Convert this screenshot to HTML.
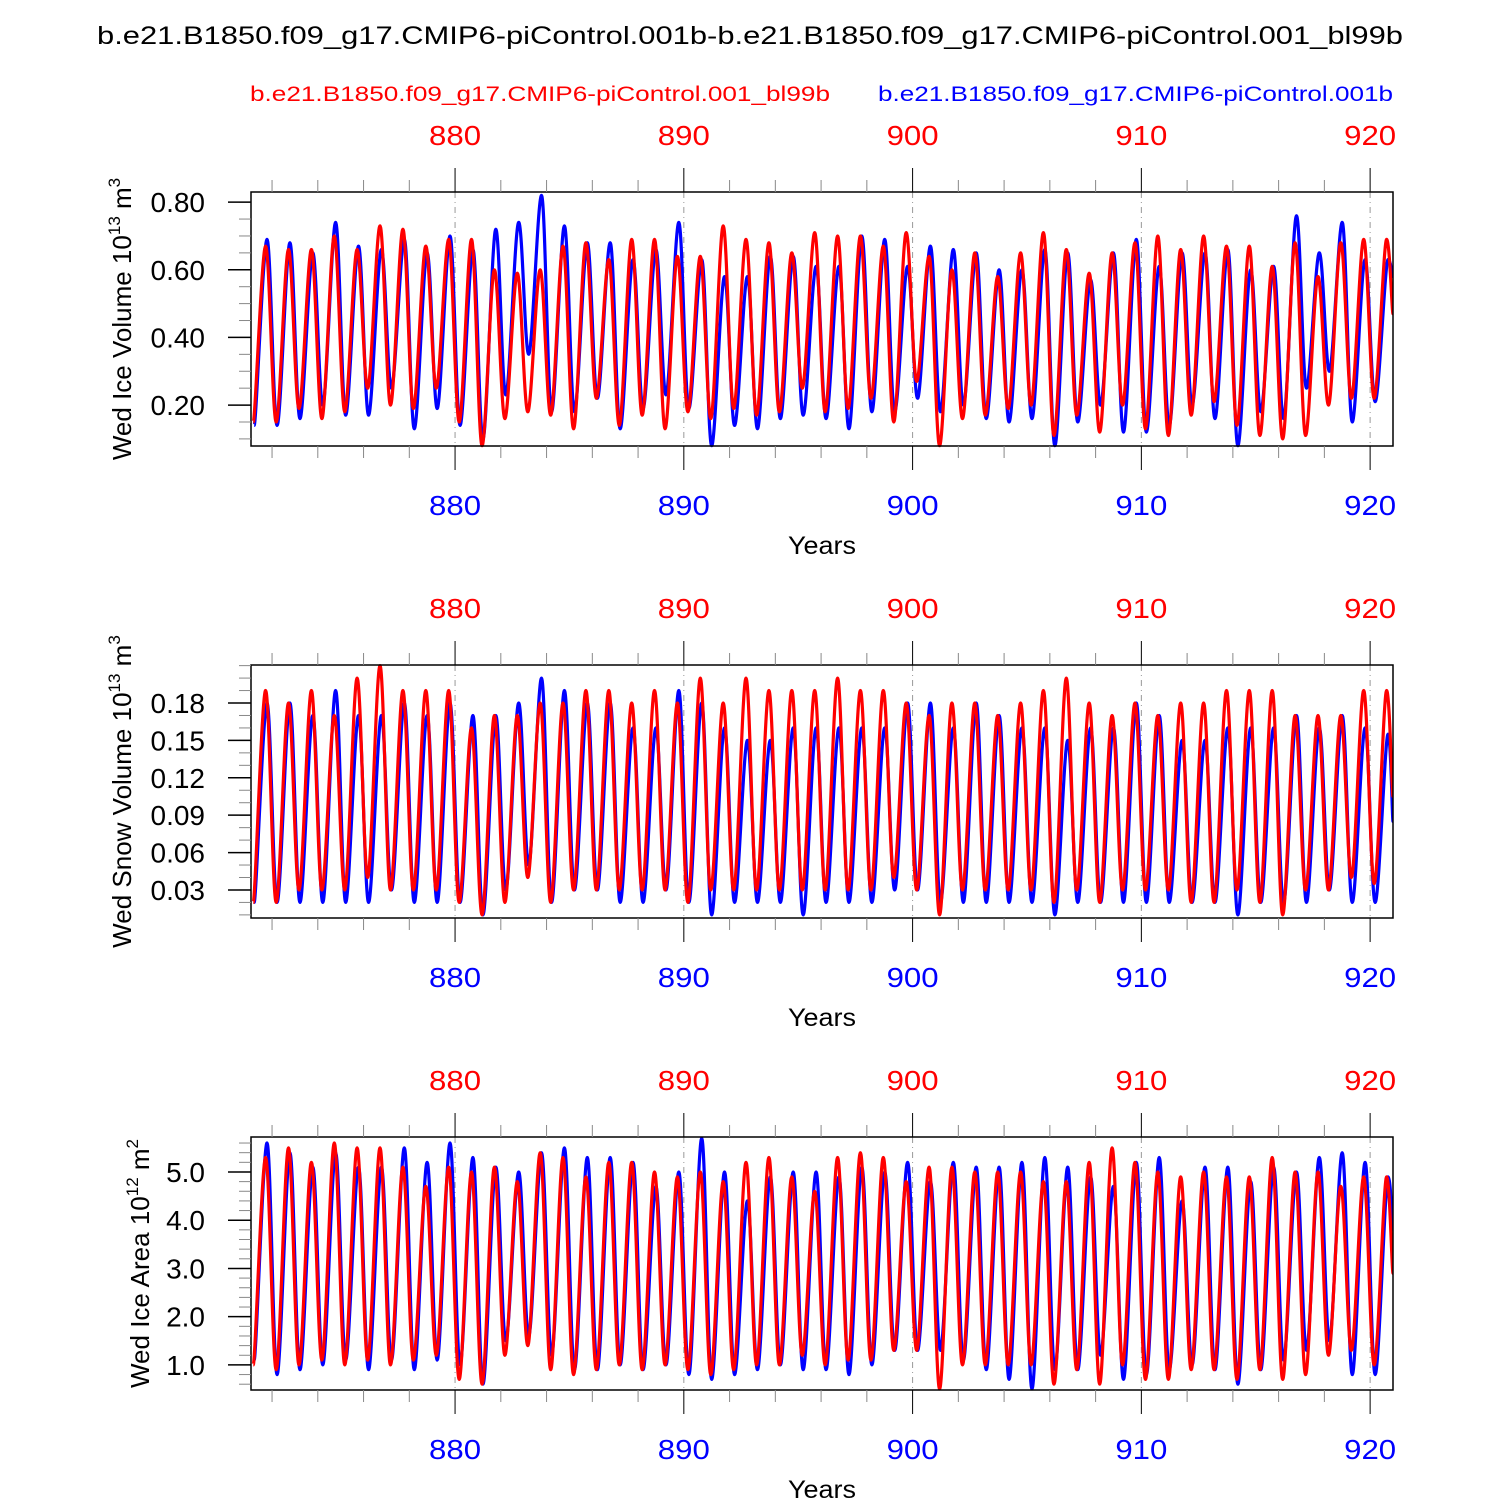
<!DOCTYPE html>
<html><head><meta charset="utf-8"><style>
body{margin:0;background:#fff;}
svg text{font-family:"Liberation Sans",sans-serif;}
</style></head><body>
<svg id="chart" width="1500" height="1500" xmlns="http://www.w3.org/2000/svg">
<text x="97" y="44" font-size="25" textLength="1306" lengthAdjust="spacingAndGlyphs">b.e21.B1850.f09_g17.CMIP6-piControl.001b-b.e21.B1850.f09_g17.CMIP6-piControl.001_bl99b</text>
<text x="250" y="101" font-size="21" fill="#f00" textLength="580" lengthAdjust="spacingAndGlyphs">b.e21.B1850.f09_g17.CMIP6-piControl.001_bl99b</text>
<text x="878" y="101" font-size="21" fill="#00f" textLength="515" lengthAdjust="spacingAndGlyphs">b.e21.B1850.f09_g17.CMIP6-piControl.001b</text>
</svg>
<script>
const years=[];for(let y=871;y<=920;y++)years.push(y);
const tickYears=[880,890,900,910,920];
// Panel 1: ice volume
const p1BlueMax=[0.69,0.68,0.65,0.74,0.67,0.66,0.69,0.65,0.70,0.66,0.72,0.74,0.82,0.73,0.68,0.68,0.63,0.66,0.74,0.63,0.58,0.58,0.64,0.64,0.61,0.61,0.70,0.69,0.61,0.67,0.66,0.65,0.60,0.60,0.66,0.65,0.57,0.65,0.69,0.61,0.65,0.65,0.66,0.60,0.61,0.76,0.65,0.74,0.63,0.63];
const p1BlueMin=[0.14,0.14,0.16,0.20,0.17,0.17,0.25,0.13,0.19,0.14,0.10,0.23,0.35,0.18,0.18,0.22,0.13,0.19,0.23,0.19,0.08,0.14,0.13,0.16,0.17,0.16,0.13,0.18,0.18,0.22,0.18,0.20,0.16,0.15,0.16,0.08,0.15,0.20,0.12,0.12,0.14,0.20,0.16,0.08,0.18,0.16,0.25,0.30,0.15,0.21];
const p1RedMax=[0.67,0.66,0.66,0.70,0.66,0.73,0.72,0.67,0.69,0.69,0.60,0.59,0.60,0.67,0.68,0.63,0.69,0.69,0.64,0.64,0.73,0.69,0.68,0.65,0.71,0.70,0.70,0.67,0.71,0.64,0.60,0.65,0.58,0.65,0.71,0.66,0.59,0.65,0.68,0.70,0.66,0.70,0.67,0.67,0.61,0.68,0.58,0.68,0.69,0.69];
const p1RedMin=[0.15,0.15,0.19,0.16,0.18,0.25,0.20,0.19,0.25,0.15,0.08,0.16,0.18,0.17,0.13,0.22,0.14,0.17,0.13,0.18,0.16,0.19,0.17,0.18,0.25,0.18,0.19,0.22,0.15,0.27,0.08,0.16,0.17,0.19,0.20,0.11,0.17,0.12,0.20,0.13,0.11,0.17,0.21,0.14,0.11,0.10,0.11,0.20,0.22,0.22];
const p1End=[0.58,0.47]; // blue, red value at right edge
// Panel 2: snow volume
const p2BlueMax=[0.18,0.18,0.17,0.19,0.17,0.17,0.18,0.17,0.18,0.17,0.17,0.18,0.20,0.19,0.18,0.18,0.16,0.16,0.19,0.18,0.16,0.15,0.15,0.16,0.16,0.16,0.16,0.16,0.18,0.18,0.16,0.18,0.17,0.16,0.16,0.15,0.16,0.16,0.18,0.17,0.15,0.15,0.16,0.16,0.16,0.17,0.16,0.17,0.16,0.155];
const p2BlueMin=[0.02,0.02,0.02,0.02,0.02,0.02,0.03,0.02,0.02,0.02,0.01,0.03,0.05,0.02,0.03,0.03,0.02,0.02,0.03,0.02,0.01,0.02,0.02,0.02,0.01,0.02,0.02,0.02,0.03,0.03,0.02,0.02,0.02,0.02,0.02,0.01,0.02,0.02,0.02,0.02,0.02,0.02,0.02,0.01,0.02,0.02,0.02,0.03,0.02,0.02];
const p2RedMax=[0.19,0.18,0.19,0.17,0.20,0.21,0.19,0.19,0.19,0.16,0.17,0.17,0.18,0.18,0.19,0.19,0.18,0.19,0.18,0.20,0.18,0.20,0.19,0.19,0.19,0.20,0.19,0.19,0.18,0.17,0.18,0.18,0.17,0.18,0.19,0.20,0.18,0.17,0.18,0.17,0.18,0.18,0.19,0.19,0.19,0.17,0.17,0.17,0.19,0.19];
const p2RedMin=[0.02,0.02,0.03,0.03,0.03,0.04,0.03,0.03,0.03,0.02,0.01,0.02,0.04,0.02,0.03,0.03,0.03,0.03,0.03,0.02,0.03,0.03,0.03,0.03,0.03,0.03,0.03,0.03,0.04,0.03,0.01,0.03,0.03,0.03,0.03,0.02,0.03,0.02,0.03,0.03,0.03,0.02,0.02,0.03,0.02,0.01,0.03,0.03,0.04,0.035];
const p2End=[0.085,0.105];
// Panel 3: ice area
const p3BlueMax=[5.6,5.4,5.1,5.4,5.1,5.1,5.5,5.2,5.6,5.3,5.1,5.0,5.4,5.5,5.3,5.3,5.2,4.7,5.0,5.7,5.0,4.4,4.9,5.0,5.0,4.9,5.1,5.0,5.2,4.8,5.2,5.1,5.1,5.2,5.3,5.1,4.9,4.7,5.2,5.3,4.4,5.1,5.1,4.8,5.1,5.0,5.3,5.4,5.2,4.9];
const p3BlueMin=[1.1,0.8,0.9,1.0,1.1,0.9,1.1,0.9,1.1,1.0,0.6,1.5,1.6,1.2,0.9,0.9,1.0,0.9,1.0,0.8,0.7,0.8,0.9,1.0,0.9,0.9,0.8,1.0,1.3,1.3,1.3,1.1,0.9,0.7,0.5,0.9,0.9,1.2,0.7,0.8,0.9,1.0,0.9,0.6,0.9,1.1,1.3,1.5,0.8,0.8];
const p3RedMax=[5.3,5.5,5.2,5.6,5.5,5.5,5.1,4.7,5.1,5.0,5.1,4.8,5.4,5.3,4.9,5.2,5.2,5.0,4.9,5.0,4.8,5.2,5.3,4.9,4.6,5.3,5.4,5.3,4.8,5.1,5.1,5.0,5.0,5.0,4.8,4.8,5.2,5.5,5.2,5.0,4.9,5.0,4.9,4.9,5.3,5.0,5.0,4.7,4.9,4.9];
const p3RedMin=[1.0,0.9,1.0,1.1,1.0,1.1,1.0,1.1,1.2,0.7,0.6,1.2,1.4,0.9,0.8,0.9,1.0,0.9,1.0,0.9,0.8,0.9,1.0,1.0,1.2,1.0,1.1,1.1,1.3,1.3,0.5,1.0,1.0,1.0,1.0,0.6,0.9,0.6,1.0,0.7,0.7,0.9,0.9,0.7,0.9,0.7,0.8,1.2,1.3,1.0];
const p3End=[3.8,2.9];

const svg=document.getElementById('chart');
const NS='http://www.w3.org/2000/svg';
function mk(tag,attrs,parent){const e=document.createElementNS(NS,tag);for(const k in attrs)e.setAttribute(k,attrs[k]);(parent||svg).appendChild(e);return e;}
const X0=251,X1=1393,YR0=871.08,YR1=921.0;
const xs=v=>X0+(v-YR0)/(YR1-YR0)*(X1-X0);

const panels=[
 {name:'ice-volume',top:192,bot:446,vmin:0.079,vmax:0.83,ticks:[0.2,0.4,0.6,0.8],dec:2,minor:0.05,title:'Wed Ice Volume 10',sup:'13',unit:' m',usup:'3',tx:128,bm:p1BlueMax,bn:p1BlueMin,rm:p1RedMax,rn:p1RedMin,end:p1End},
 {name:'snow-volume',top:665,bot:918,vmin:0.0075,vmax:0.2105,ticks:[0.03,0.06,0.09,0.12,0.15,0.18],dec:2,minor:0.01,title:'Wed Snow Volume 10',sup:'13',unit:' m',usup:'3',tx:128,bm:p2BlueMax,bn:p2BlueMin,rm:p2RedMax,rn:p2RedMin,end:p2End},
 {name:'ice-area',top:1137,bot:1390,vmin:0.48,vmax:5.725,ticks:[1,2,3,4,5],dec:1,minor:0.2,title:'Wed Ice Area 10',sup:'12',unit:' m',usup:'2',tx:146,bm:p3BlueMax,bn:p3BlueMin,rm:p3RedMax,rn:p3RedMin,end:p3End}
];

function smoothPath(pts){
 let d='M'+pts[0][0].toFixed(1)+','+pts[0][1].toFixed(1);
 for(let i=0;i<pts.length-1;i++){
  const p0=pts[Math.max(0,i-1)],p1=pts[i],p2=pts[i+1],p3=pts[Math.min(pts.length-1,i+2)];
  const c1=[p1[0]+(p2[0]-p0[0])/6,p1[1]];
  const c2=[p2[0]-(p3[0]-p1[0])/6,p2[1]];
  d+=' C'+c1[0].toFixed(1)+','+c1[1].toFixed(1)+' '+c2[0].toFixed(1)+','+c2[1].toFixed(1)+' '+p2[0].toFixed(1)+','+p2[1].toFixed(1);
 }
 return d;
}

panels.forEach(p=>{
 const g=mk('g',{});
 
 
 const ys=v=>p.bot-(v-p.vmin)/(p.vmax-p.vmin)*(p.bot-p.top);
 tickYears.forEach(yr=>{
  const l=mk('line',{x1:xs(yr),x2:xs(yr),y1:p.top,y2:p.bot,stroke:'#999','stroke-width':1,'stroke-dasharray':'6,4,1,4'},g);
  
  
 });
 const series=[['blue',p.bm,p.bn,0.78,0.22,'#00f',p.end[0]],['red',p.rm,p.rn,0.72,0.18,'#f00',p.end[1]]];
 const clipId='clip-'+p.name;
 const cp=mk('clipPath',{id:clipId},g);mk('rect',{x:X0,y:p.top-2,width:X1-X0,height:p.bot-p.top+4},cp);
 series.forEach(s=>{
  const pts=[];
  years.forEach((yr,i)=>{pts.push([xs(yr+s[4]),ys(s[2][i])]);pts.push([xs(yr+s[3]),ys(s[1][i])]);});
  pts.push([xs(921.0),ys(s[6])]);
  const path=mk('path',{d:smoothPath(pts),fill:'none',stroke:s[5],'stroke-width':3.2,'clip-path':'url(#'+clipId+')'},g);
  
  
 });
 const fr=mk('rect',{x:X0,y:p.top,width:X1-X0,height:p.bot-p.top,fill:'none',stroke:'#000','stroke-width':1.5},g);
 
 
 for(let v=Math.ceil(p.vmin/p.minor)*p.minor;v<=p.vmax;v+=p.minor){mk('line',{x1:X0-12,x2:X0,y1:ys(v),y2:ys(v),stroke:'#888','stroke-width':1},g);}
 p.ticks.forEach(v=>{
  mk('line',{x1:X0-23,x2:X0,y1:ys(v),y2:ys(v),stroke:'#000','stroke-width':1.5},g);
  const t=mk('text',{x:X0-46,y:ys(v)+10,'font-size':28,'text-anchor':'end'},g);t.textContent=v.toFixed(p.dec);
  
  
 });
 for(let yr=872;yr<=921;yr+=2){
  const major=yr%10===0;const len=major?24:12;const col=major?'#000':'#888';
  mk('line',{x1:xs(yr),x2:xs(yr),y1:p.top,y2:p.top-len,stroke:col,'stroke-width':1},g);
  mk('line',{x1:xs(yr),x2:xs(yr),y1:p.bot,y2:p.bot+len,stroke:col,'stroke-width':1},g);
 }
 tickYears.forEach(yr=>{
  const t1=mk('text',{x:xs(yr),y:p.top-47,'font-size':28,'text-anchor':'middle',fill:'#f00',textLength:52,lengthAdjust:'spacingAndGlyphs'},g);t1.textContent=yr;
  
  
  const t2=mk('text',{x:xs(yr),y:p.bot+69,'font-size':28,'text-anchor':'middle',fill:'#00f',textLength:52,lengthAdjust:'spacingAndGlyphs'},g);t2.textContent=yr;
  
  
 });
 const xt=mk('text',{x:822,y:p.bot+108,'font-size':25,'text-anchor':'middle',textLength:68,lengthAdjust:'spacingAndGlyphs'},g);xt.textContent='Years';
 
 
 const cy=(p.top+p.bot)/2;
 const yt=mk('text',{x:0,y:0,'font-size':26,'text-anchor':'middle',transform:'translate('+(p.tx+3)+','+cy+') rotate(-90)'},g);
 
 
 const a=mk('tspan',{},yt);a.textContent=p.title;
 const b=mk('tspan',{dy:-11,'font-size':17},yt);b.textContent=p.sup;
 const c=mk('tspan',{dy:11},yt);c.textContent=p.unit;
 const d=mk('tspan',{dy:-11,'font-size':17},yt);d.textContent=p.usup;
});
</script>
</body></html>
